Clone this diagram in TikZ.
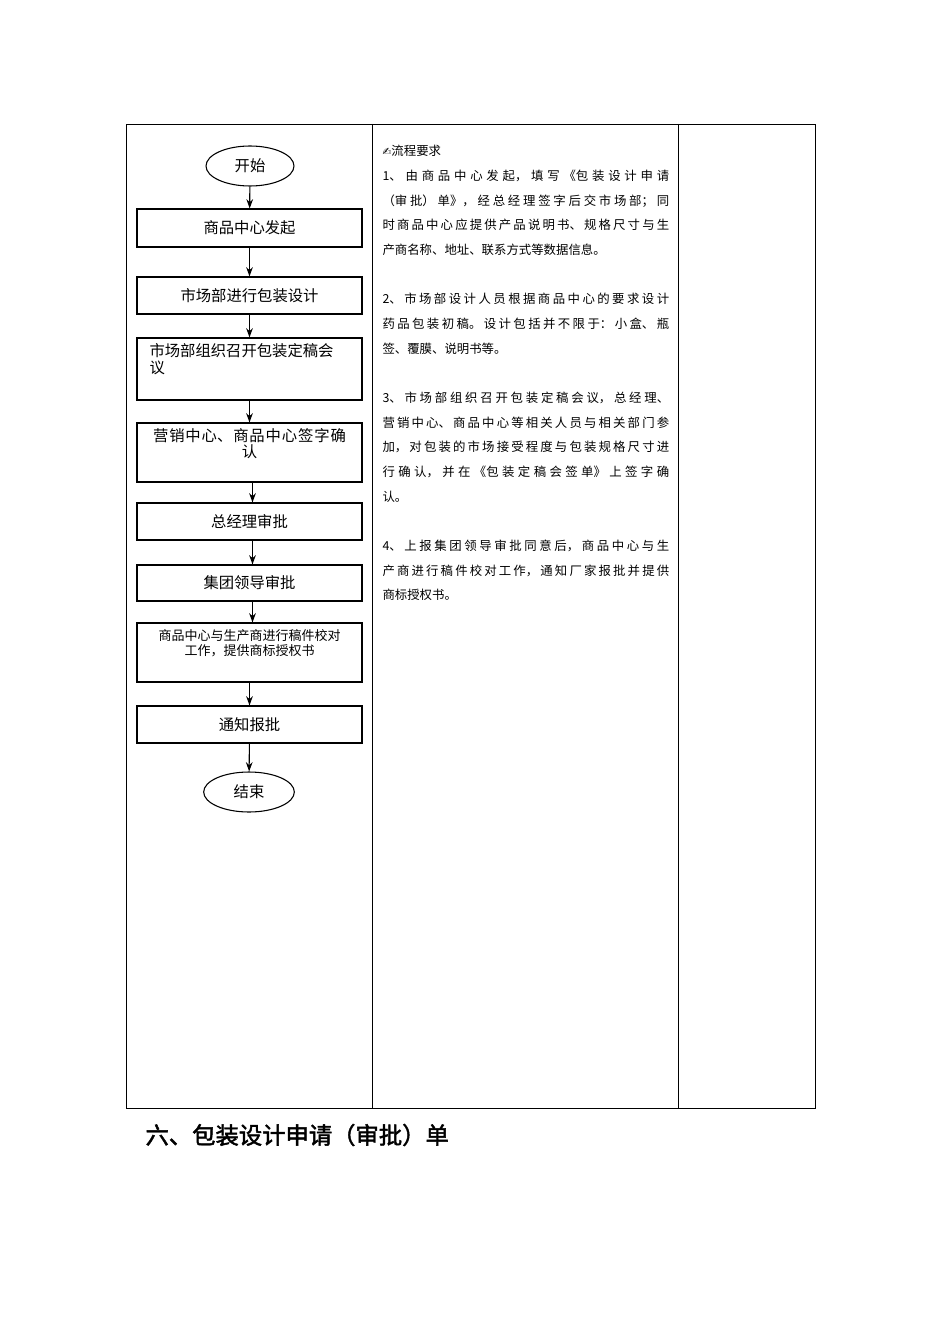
\documentclass[tikz,border=0pt]{standalone}
\usetikzlibrary{shapes.geometric,arrows.meta}
\usepackage{fontspec}
\setmainfont{Noto Sans CJK SC}
\newfontfamily\symf{DejaVu Sans}
\newfontfamily\cjkb[FakeBold=2]{Noto Sans CJK SC}
\XeTeXlinebreaklocale "zh"
\XeTeXlinebreakskip=0pt plus 2pt
\begin{document}
\begin{tikzpicture}[x=0.75pt,y=-0.75pt,line width=0.8pt,
  box/.style={draw,minimum width=168.75pt,inner sep=0pt},
  ov/.style={draw,ellipse,minimum width=66pt,minimum height=30pt,inner sep=0pt,font=\fontsize{11.5}{13}\selectfont},
  lbl/.style={font=\fontsize{11.5}{13}\selectfont,inner sep=0pt},
  arr/.style={-{Stealth[length=7pt,width=5pt]},line width=0.8pt}]
\useasboundingbox (0,0) rectangle (950,1344);
\draw[line width=0.6pt] (126,124) rectangle (815,1108);
\draw[line width=0.6pt] (372,124) -- (372,1108) (678,124) -- (678,1108);
\node[ov] (s) at (250,166) {开始};
\node[box,minimum height=28.5pt] (b1) at (249.5,228) {};
\node[lbl] at (b1) {商品中心发起};
\node[box,minimum height=27.75pt] (b2) at (249.5,295.5) {};
\node[lbl] at (b2) {市场部进行包装设计};
\node[box,minimum height=46.5pt] (b3) at (249.5,369) {};
\node[lbl,anchor=north west] at (149,343) {市场部组织召开包装定稿会};
\node[lbl,anchor=north west] at (149,360) {议};
\node[box,minimum height=44.25pt] (b4) at (249.5,452.5) {};
\node[lbl,align=center,text width=160pt,anchor=north] at (249.5,428) {营销中心、商品中心签字确\\[-1pt]认};
\node[box,minimum height=27.75pt] (b5) at (249.5,521.5) {};
\node[lbl] at (b5) {总经理审批};
\node[box,minimum height=27pt] (b6) at (249.5,583) {};
\node[lbl] at (b6) {集团领导审批};
\node[box,minimum height=44.25pt] (b7) at (249.5,652.5) {};
\node[font=\fontsize{9.75}{11}\selectfont,align=center,inner sep=0pt,anchor=north] at (249.5,629) {商品中心与生产商进行稿件校对\\工作，提供商标授权书};
\node[box,minimum height=27.75pt] (b8) at (249.5,724.5) {};
\node[lbl] at (b8) {通知报批};
\node[ov,minimum width=68pt] (e) at (249,792) {结束};
\draw[arr] (s) -- (b1);
\draw[arr] (b1) -- (b2);
\draw[arr] (b2) -- (b3);
\draw[arr] (b3) -- (b4);
\draw[arr] ([xshift=2.25pt]b4.south) -- ([xshift=2.25pt]b5.north);
\draw[arr] ([xshift=2.25pt]b5.south) -- ([xshift=2.25pt]b6.north);
\draw[arr] ([xshift=2.25pt]b6.south) -- ([xshift=2.25pt]b7.north);
\draw[arr] (b7) -- (b8);
\draw[arr] (b8) -- (e);
\node[anchor=north west,inner sep=0pt,text width=215pt,align=justify,
  font=\fontsize{9.3}{18.5}\selectfont] (req) at (382,145) {%
{\symf\fontsize{8}{10}\selectfont ✍}流程要求\\
1、由商品中心发起，填写《包装设计申请\linebreak（审批）单》，经总经理签字后交市场部；同\linebreak 时商品中心应提供产品说明书、规格尺寸与生\linebreak 产商名称、地址、联系方式等数据信息。\\[18.5pt]
2、市场部设计人员根据商品中心的要求设计\linebreak 药品包装初稿。设计包括并不限于：小盒、瓶\linebreak 签、覆膜、说明书等。\\[18.5pt]
3、市场部组织召开包装定稿会议，总经理、\linebreak 营销中心、商品中心等相关人员与相关部门参\linebreak 加，对包装的市场接受程度与包装规格尺寸进\linebreak 行确认，并在《包装定稿会签单》上签字确\linebreak 认。\\[18.5pt]
4、上报集团领导审批同意后，商品中心与生\linebreak 产商进行稿件校对工作，通知厂家报批并提供\linebreak 商标授权书。};
\node[anchor=west,inner sep=0pt,font=\cjkb\fontsize{17.5}{20}\selectfont] (t) at (145,1135) {六、包装设计申请（审批）单};
\end{tikzpicture}
\end{document}
